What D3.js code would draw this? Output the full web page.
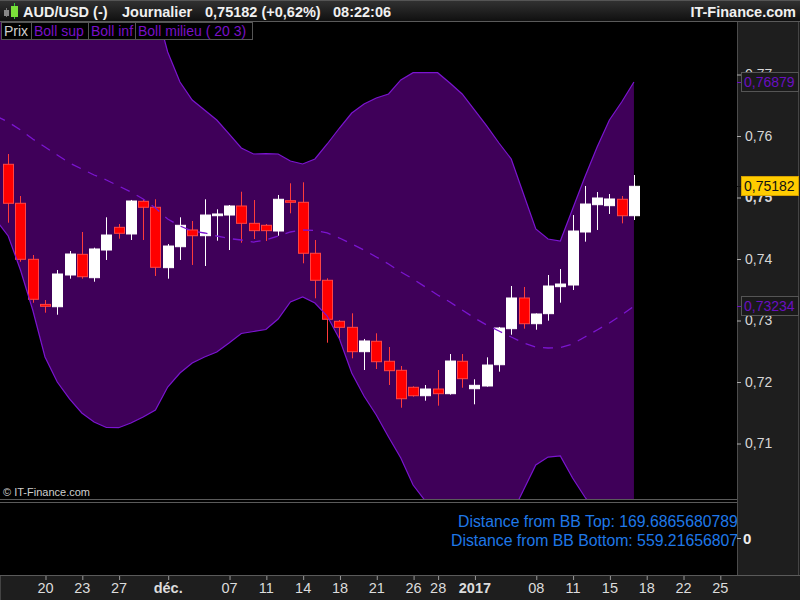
<!DOCTYPE html>
<html><head><meta charset="utf-8">
<script src="https://cdn.jsdelivr.net/npm/d3@7"></script>
<style>body{margin:0;background:#000}svg{display:block;font-family:"Liberation Sans",Arial,sans-serif}</style>
</head><body>
<script>
// Sessions (Sun-Fri trading days; 25 Dec and 1 Jan absent)
const sessions = ["2016-11-15","2016-11-16","2016-11-17","2016-11-18","2016-11-20","2016-11-21","2016-11-22","2016-11-23","2016-11-24","2016-11-25","2016-11-27","2016-11-28","2016-11-29","2016-11-30","2016-12-01","2016-12-02","2016-12-04","2016-12-05","2016-12-06","2016-12-07","2016-12-08","2016-12-09","2016-12-11","2016-12-12","2016-12-13","2016-12-14","2016-12-15","2016-12-16","2016-12-18","2016-12-19","2016-12-20","2016-12-21","2016-12-22","2016-12-23","2016-12-26","2016-12-27","2016-12-28","2016-12-29","2016-12-30","2017-01-02","2017-01-03","2017-01-04","2017-01-05","2017-01-06","2017-01-08","2017-01-09","2017-01-10","2017-01-11","2017-01-12","2017-01-13","2017-01-15","2017-01-16","2017-01-17"];
// Candles start at sessions[1]
const candleStart = 1;
const open  = [0.7554,0.74906,0.73995,0.73262,0.73224,0.7374,0.74076,0.73696,0.74146,0.74515,0.74407,0.74938,0.74841,0.73859,0.742,0.74472,0.74379,0.74704,0.74715,0.74862,0.7458,0.74548,0.74455,0.74948,0.74922,0.74093,0.73654,0.72987,0.72889,0.72493,0.72662,0.72337,0.7219,0.71914,0.71777,0.71886,0.7181,0.72337,0.71891,0.71935,0.72281,0.72867,0.73366,0.72948,0.73111,0.7355,0.73577,0.74439,0.74883,0.74867,0.74971,0.74704];
const high  = [0.75707,0.75024,0.74065,0.73333,0.73821,0.7413,0.74439,0.74184,0.74678,0.74569,0.7496,0.74971,0.74971,0.74244,0.74678,0.74618,0.74971,0.74808,0.74878,0.75094,0.74959,0.74569,0.75041,0.75231,0.75247,0.74309,0.73686,0.73008,0.73117,0.727,0.72792,0.72569,0.7226,0.7193,0.71951,0.72195,0.72455,0.72455,0.72044,0.72401,0.72895,0.73561,0.73545,0.73115,0.7374,0.73837,0.74715,0.75187,0.75089,0.75057,0.75024,0.75366];
const low   = [0.7459,0.73956,0.73289,0.73127,0.73094,0.7368,0.7368,0.73631,0.73984,0.7433,0.74309,0.74309,0.73724,0.7368,0.73984,0.73903,0.73886,0.74298,0.74146,0.74265,0.74325,0.74293,0.74379,0.74743,0.7393,0.73361,0.72639,0.727,0.72385,0.72195,0.72211,0.71951,0.71582,0.71761,0.71696,0.71615,0.71794,0.71907,0.71637,0.71924,0.72168,0.72769,0.72867,0.7285,0.72997,0.7329,0.73496,0.74282,0.74472,0.74732,0.7458,0.74634];
const close = [0.74906,0.73995,0.73345,0.73231,0.73756,0.74081,0.73712,0.74163,0.7439,0.74418,0.74943,0.74841,0.73865,0.74211,0.74548,0.74379,0.74715,0.74732,0.74862,0.7458,0.74461,0.74461,0.74971,0.74922,0.74093,0.73654,0.7302,0.72889,0.72493,0.72667,0.7233,0.72184,0.71728,0.71777,0.71886,0.7181,0.72341,0.72054,0.71946,0.72276,0.72878,0.73366,0.72948,0.73106,0.73561,0.73593,0.74455,0.74894,0.74992,0.74976,0.74704,0.75182];
// Bollinger (20, 3), one value per session
const bollSup = [0.78016,0.78081,0.78374,0.78732,0.79236,0.79382,0.79398,0.79431,0.79382,0.79309,0.79122,0.78846,0.7852,0.78114,0.77366,0.76878,0.76585,0.76423,0.7626,0.76033,0.75805,0.75707,0.75715,0.75707,0.75593,0.75545,0.75626,0.7587,0.7613,0.76374,0.7652,0.76618,0.76683,0.76911,0.77029,0.77029,0.77029,0.76862,0.76683,0.76423,0.76163,0.75886,0.75626,0.75057,0.74488,0.74325,0.74293,0.74813,0.75333,0.75821,0.7626,0.76553,0.76879];
const bollMid = [0.76325,0.76228,0.76098,0.75951,0.75821,0.75691,0.75561,0.75463,0.75366,0.75285,0.75187,0.75089,0.74976,0.74829,0.7465,0.74537,0.74455,0.74423,0.74374,0.74333,0.74309,0.74276,0.74309,0.74374,0.74439,0.74472,0.74463,0.74423,0.74341,0.74244,0.74146,0.74033,0.73919,0.73789,0.73675,0.73545,0.73415,0.73301,0.73171,0.73041,0.72927,0.72829,0.72732,0.72634,0.72569,0.72553,0.72561,0.72618,0.72732,0.72846,0.72959,0.73089,0.73234];
const bollInf = [0.74634,0.74374,0.73821,0.73171,0.72407,0.72,0.71724,0.71496,0.7135,0.7126,0.71257,0.71333,0.71431,0.71545,0.71919,0.72146,0.72309,0.72407,0.72488,0.72634,0.72789,0.72821,0.72854,0.73024,0.73301,0.73382,0.73285,0.73073,0.72699,0.72146,0.71772,0.71463,0.71106,0.70764,0.70325,0.70065,0.69805,0.6974,0.69659,0.69659,0.69691,0.69772,0.69837,0.70244,0.7065,0.7078,0.70797,0.70439,0.7013,0.6987,0.69659,0.69626,0.69589];
const yTicks = [0.71,0.72,0.73,0.74,0.75,0.76,0.77];
// x-axis ticks, as session positions (future sessions beyond data continue the Sun-Fri count)
const xTickPos    = [4,7,10,14,19,22,25,28,31,34,36,39,44,47,50,53,56,59];
const xTickLabels = ["20","23","27","déc.","07","11","14","18","21","26","28","2017","08","11","15","18","22","25"];
const boldLabels  = ["déc.","2017"];
const lastPrice = 0.75182, lastUpper = 0.76879, lastMid = 0.73234;
// as visible in the panel (cut at its right edge)
const distTop = "169.6865680789", distBottom = "559.21656807";

const W = 800, H = 600;
const plotL = 0, plotR = 737, plotT = 22, plotB = 499;
const purple = "#3f0059", bandLine = "#7b14d0";

const svg = d3.select("body").append("svg").attr("width", W).attr("height", H);
const defs = svg.append("defs");
const hg = defs.append("linearGradient").attr("id","hg").attr("x1",0).attr("y1",0).attr("x2",0).attr("y2",1);
hg.append("stop").attr("offset","0%").attr("stop-color","#333");
hg.append("stop").attr("offset","100%").attr("stop-color","#0e0e0e");
defs.append("clipPath").attr("id","plotclip").append("rect")
  .attr("x",plotL).attr("y",plotT).attr("width",plotR-plotL).attr("height",plotB-plotT);
defs.append("clipPath").attr("id","lowclip").append("rect")
  .attr("x",0).attr("y",503).attr("width",plotR).attr("height",72);

svg.append("rect").attr("width",W).attr("height",H).attr("fill","#000");

// scales
const x = d3.scaleLinear().domain([0.3325, 60.4]).range([plotL, plotR]);
const y = d3.scaleLinear().domain([0.70, 0.77]).range([505, 74.5]);

// header
svg.append("rect").attr("x",0).attr("y",0).attr("width",W).attr("height",22).attr("fill","url(#hg)");
svg.append("line").attr("x1",0).attr("x2",W).attr("y1",0.5).attr("y2",0.5).attr("stroke","#555");
svg.append("line").attr("x1",0).attr("x2",W).attr("y1",21.5).attr("y2",21.5).attr("stroke","#5a5a5a");
// icon
svg.append("line").attr("x1",6.5).attr("x2",6.5).attr("y1",8).attr("y2",17).attr("stroke","#777");
svg.append("rect").attr("x",4).attr("y",10).attr("width",5).attr("height",6).attr("fill","#888");
svg.append("line").attr("x1",14.5).attr("x2",14.5).attr("y1",3).attr("y2",19).attr("stroke","#3c3");
svg.append("rect").attr("x",11).attr("y",6).attr("width",7).attr("height",11).attr("fill","#7be03a");
const hdr = [["AUD/USD (-)",23],["Journalier",122],["0,75182 (+0,62%)",205],["08:22:06",333]];
hdr.forEach(([t,xx]) => svg.append("text").attr("x",xx).attr("y",16.5).attr("fill","#f0f0f0")
  .attr("font-size",14.5).attr("font-weight","bold").text(t));
svg.append("text").attr("x",796).attr("y",16.5).attr("text-anchor","end").attr("fill","#f0f0f0")
  .attr("font-size",14.5).attr("font-weight","bold").text("IT-Finance.com");

// main plot
const g = svg.append("g").attr("clip-path","url(#plotclip)");
const band = sessions.map((d,i)=>({i, up:bollSup[i], mid:bollMid[i], lo:bollInf[i]}));
g.append("path").datum(band).attr("fill",purple)
  .attr("d", d3.area().x(d=>x(d.i)).y0(d=>y(d.lo)).y1(d=>y(d.up)));

const candles = open.map((o,k)=>({i:k+candleStart, o, h:high[k], l:low[k], c:close[k]}));
const bw = 10;
const cg = g.append("g");
cg.selectAll("line.wick").data(candles).join("line")
  .attr("x1",d=>Math.round(x(d.i))+0.5).attr("x2",d=>Math.round(x(d.i))+0.5)
  .attr("y1",d=>y(d.h)).attr("y2",d=>y(d.l))
  .attr("stroke",d=>d.c>=d.o?"#ffffff":"#ff3b3b").attr("stroke-width",1);
cg.selectAll("rect.body").data(candles).join("rect")
  .attr("x",d=>Math.round(x(d.i))-bw/2+0.5).attr("width",bw)
  .attr("y",d=>y(Math.max(d.o,d.c))).attr("height",d=>Math.max(1,Math.abs(y(d.o)-y(d.c))))
  .attr("fill",d=>d.c>=d.o?"#ffffff":"#ff0000")
  .attr("stroke",d=>d.c>=d.o?"#ffffff":"#ff4444").attr("stroke-width",1);

const ln = key => d3.line().x(d=>x(d.i)).y(d=>y(d[key]));
g.append("path").datum(band).attr("fill","none").attr("stroke",bandLine).attr("stroke-width",1.2).attr("d",ln("up"));
g.append("path").datum(band).attr("fill","none").attr("stroke",bandLine).attr("stroke-width",1.2).attr("d",ln("lo"));
g.append("path").datum(band).attr("fill","none").attr("stroke",bandLine).attr("stroke-width",1.3)
  .attr("stroke-dasharray","10,8").attr("d",ln("mid"));

svg.append("text").attr("x",3).attr("y",496).attr("fill","#cfcfcf").attr("font-size",11).text("© IT-Finance.com");

// legend
const leg = [["Prix",1,30,"#d0d0d0"],["Boll sup",31,57,"#7a10c8"],["Boll inf",88,47,"#7a10c8"],["Boll milieu ( 20 3)",135,117,"#7a10c8"]];
leg.forEach(([t,lx,lw,col])=>{
  svg.append("rect").attr("x",lx+0.5).attr("y",22.5).attr("width",lw).attr("height",17).attr("fill","#000").attr("stroke","#555");
  svg.append("text").attr("x",lx+3).attr("y",36).attr("fill",col).attr("font-size",14).text(t);
});

// right axis panel
svg.append("rect").attr("x",plotR).attr("y",22).attr("width",W-plotR).attr("height",553).attr("fill","#1e1e1e");
svg.append("line").attr("x1",plotR+0.5).attr("x2",plotR+0.5).attr("y1",22).attr("y2",575).attr("stroke","#4c4c4c");
svg.append("line").attr("x1",W-1.5).attr("x2",W-1.5).attr("y1",22).attr("y2",H).attr("stroke","#444");

const fmt = d => d3.format(".2f")(d).replace(".",",");
const ax = svg.append("g").attr("transform",`translate(${plotR},0)`)
  .call(d3.axisRight(y).tickValues(yTicks).tickFormat(fmt).tickSize(4).tickPadding(4));
ax.select(".domain").remove();
ax.selectAll(".tick line").attr("stroke","#aaa");
ax.selectAll(".tick text").attr("fill","#d6d6d6").attr("font-size",14)
  .attr("font-family","'Liberation Sans',Arial,sans-serif")
  .attr("font-weight",d=>d===0.75?"bold":"normal");

function priceBox(v, fill, txtCol, stroke){
  const yy = y(v);
  svg.append("line").attr("x1",plotR).attr("x2",plotR+5).attr("y1",Math.round(yy)+0.5).attr("y2",Math.round(yy)+0.5).attr("stroke",stroke==="none"?"#ccc":txtCol);
  svg.append("rect").attr("x",741.5).attr("y",Math.round(yy)-9.5).attr("width",57).attr("height",19)
    .attr("fill",fill).attr("stroke",stroke);
  svg.append("text").attr("x",744).attr("y",Math.round(yy)+5).attr("fill",txtCol).attr("font-size",14)
    .text(d3.format(".5f")(v).replace(".",","));
}
priceBox(lastUpper, "#1a1a1a", "#6a0fc0", "#555");
priceBox(lastMid, "#1a1a1a", "#6a0fc0", "#555");
priceBox(lastPrice, "#ffcc00", "#111", "#d4a000");

// lower panel
svg.append("line").attr("x1",0).attr("x2",plotR).attr("y1",499.5).attr("y2",499.5).attr("stroke","#5a5a5a");
svg.append("line").attr("x1",0).attr("x2",plotR).attr("y1",502.5).attr("y2",502.5).attr("stroke","#5a5a5a");
svg.append("line").attr("x1",0).attr("x2",W).attr("y1",575.5).attr("y2",575.5).attr("stroke","#5a5a5a");
const lp = svg.append("g").attr("clip-path","url(#lowclip)");
lp.append("text").attr("x",458).attr("y",527).attr("fill","#1f78e8").attr("font-size",15.8).text("Distance from BB Top: " + distTop);
lp.append("text").attr("x",451).attr("y",546).attr("fill","#1f78e8").attr("font-size",15.8).text("Distance from BB Bottom: " + distBottom);
svg.append("line").attr("x1",plotR).attr("x2",plotR+4).attr("y1",538.5).attr("y2",538.5).attr("stroke","#aaa");
svg.append("text").attr("x",743).attr("y",544).attr("fill","#eee").attr("font-size",15).attr("font-weight","bold").text("0");

// x axis
svg.append("rect").attr("x",0).attr("y",576).attr("width",W).attr("height",24).attr("fill","#1e1e1e");
svg.append("line").attr("x1",0).attr("x2",W).attr("y1",575.5).attr("y2",575.5).attr("stroke","#5a5a5a");
svg.append("line").attr("x1",0.5).attr("x2",0.5).attr("y1",576).attr("y2",H).attr("stroke","#444");
const xa = svg.append("g").attr("transform","translate(0,576)")
  .call(d3.axisBottom(x).tickValues(xTickPos).tickFormat((d,i)=>xTickLabels[i]).tickSize(4).tickPadding(3));
xa.select(".domain").remove();
xa.selectAll(".tick line").attr("stroke","#999").attr("transform","translate(0.5,0)");
xa.selectAll(".tick text").attr("fill","#dcdcdc").attr("font-size",14.5)
  .attr("font-family","'Liberation Sans',Arial,sans-serif")
  .attr("font-weight",(d,i)=>boldLabels.includes(xTickLabels[i])?"bold":"normal");
</script>
</body></html>
